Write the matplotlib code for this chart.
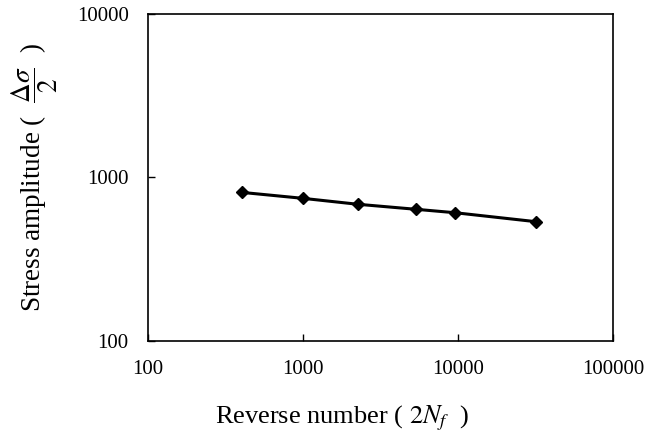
import matplotlib
matplotlib.use("Agg")
import matplotlib.pyplot as plt

reversals = [402, 995, 2254, 5360, 9570, 31700]
stress_amp = [811, 746, 686, 639, 609, 537]
x_ticks = [100, 1000, 10000, 100000]
y_ticks = [100, 1000, 10000]

plt.rcParams['font.family'] = ['Liberation Serif', 'DejaVu Serif']
plt.rcParams['mathtext.fontset'] = 'stix'

fig = plt.figure(figsize=(6.48, 4.36), dpi=100)
ax = fig.add_axes([148/648, (436-341)/436, (613-148)/648, (341-14)/436])
ax.plot(reversals, stress_amp, color='black', lw=2.2, marker='D', ms=6,
        markerfacecolor='black', markeredgecolor='black')
ax.set_xscale('log')
ax.set_yscale('log')
ax.set_xlim(100, 100000)
ax.set_ylim(100, 10000)
ax.set_xticks(x_ticks)
ax.set_xticklabels([str(v) for v in x_ticks])
ax.set_yticks(y_ticks)
ax.set_yticklabels([str(v) for v in y_ticks])
ax.minorticks_off()
ax.tick_params(direction='in', length=5, width=1, labelsize=15, top=False, right=False)
ax.tick_params(axis='x', pad=14)
ax.tick_params(axis='y', pad=14)
for s in ax.spines.values():
    s.set_linewidth(1.2)
ax.set_xlabel(r'Reverse number ( $2N_f$  )', fontsize=19)
ax.xaxis.set_label_coords(0.417, -0.19)
ax.set_ylabel(r'Stress amplitude (  $\dfrac{\Delta\sigma}{2}$  )', fontsize=19.5)
ax.yaxis.set_label_coords(-0.19, 0.5)
fig.savefig('out.png', dpi=100)
